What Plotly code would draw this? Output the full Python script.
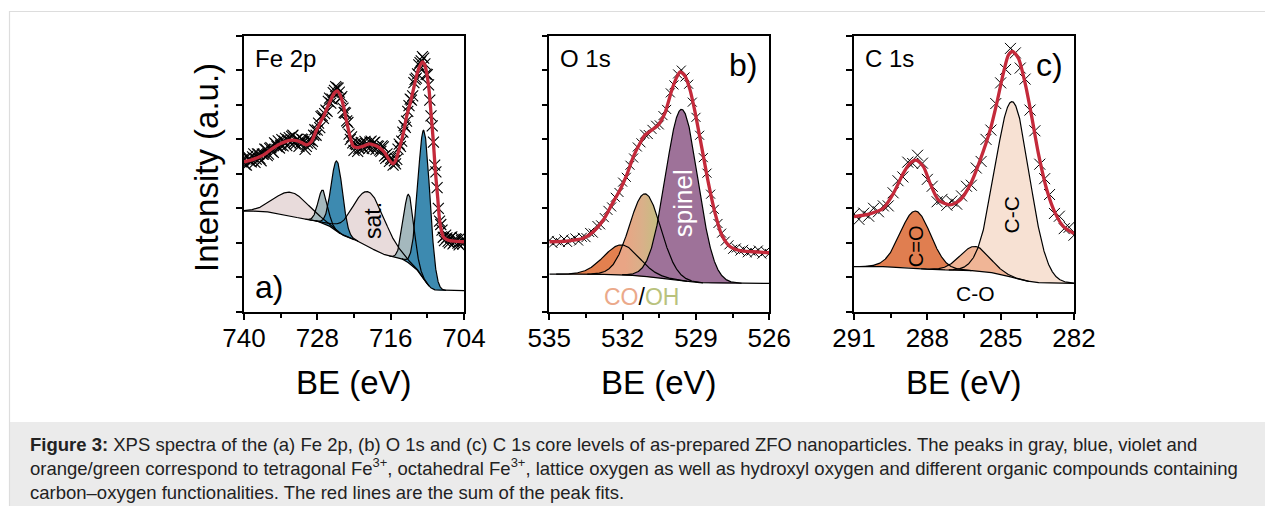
import numpy as np
import plotly.graph_objects as go

FONT = "Liberation Sans, Arial, Helvetica, sans-serif"
RED = "#c42a3b"

# ---------------- Fe 2p (panel a) ----------------
# measured points, 0.4 eV grid starting at 740.0
fe_meas_be_1 = [740.0, 739.6, 739.2, 738.8, 738.4, 738.0, 737.6, 737.2, 736.8, 736.4,
                736.0, 735.6, 735.2, 734.8, 734.4, 734.0, 733.6, 733.2, 732.8, 732.4,
                732.0, 731.6, 731.2, 730.8, 730.4, 730.0, 729.6, 729.2, 728.8, 728.4,
                728.0, 727.6, 727.2, 726.8, 726.4, 726.0, 725.6, 725.2, 724.8, 724.4,
                724.0, 723.6, 723.2, 722.8, 722.4, 722.0, 721.6, 721.2, 720.8, 720.4,
                720.0, 719.6, 719.2, 718.8, 718.4, 718.0, 717.6, 717.2, 716.8, 716.4,
                716.0, 715.6, 715.2, 714.8, 714.4, 714.0, 713.6, 713.2, 712.8, 712.4,
                712.0, 711.6, 711.2, 710.8, 710.4, 710.0, 709.6, 709.2, 708.8, 708.4,
                708.0, 707.6, 707.2, 706.8, 706.4, 706.0, 705.6, 705.2, 704.8, 704.4,
                704.0]
fe_meas_1 = [4.45, 4.25, 4.43, 4.35, 4.58, 4.43, 4.57, 4.38, 4.57, 4.71,
             4.57, 4.76, 4.62, 4.87, 4.96, 4.83, 4.81, 5.03, 4.99, 4.90,
             5.12, 4.86, 5.01, 4.90, 4.99, 4.71, 4.89, 4.98, 4.94, 5.28,
             5.27, 5.34, 5.69, 5.75, 5.81, 6.20, 6.17, 6.42, 6.50, 6.37,
             6.24, 5.78, 5.54, 5.15, 5.07, 4.68, 4.85, 4.74, 4.91, 4.73,
             4.88, 4.73, 4.95, 4.90, 4.71, 4.80, 4.65, 4.78, 4.45, 4.50,
             4.45, 4.25, 4.29, 4.72, 4.80, 5.21, 5.35, 5.81, 6.17, 6.26,
             6.74, 6.90, 7.23, 7.40, 7.19, 6.88, 6.14, 5.39, 4.25, 3.60,
             2.63, 2.37, 2.06, 2.14, 2.00, 2.17, 2.01, 2.10, 1.94, 2.06,
             2.10]
# measured points in between (739.8 ... 704.2)
fe_meas_be_2 = [739.8, 739.4, 739.0, 738.6, 738.2, 737.8, 737.4, 737.0, 736.6, 736.2,
                735.8, 735.4, 735.0, 734.6, 734.2, 733.8, 733.4, 733.0, 732.6, 732.2,
                731.8, 731.4, 731.0, 730.6, 730.2, 729.8, 729.4, 729.0, 728.6, 728.2,
                727.8, 727.4, 727.0, 726.6, 726.2, 725.8, 725.4, 725.0, 724.6, 724.2,
                723.8, 723.4, 723.0, 722.6, 722.2, 721.8, 721.4, 721.0, 720.6, 720.2,
                719.8, 719.4, 719.0, 718.6, 718.2, 717.8, 717.4, 717.0, 716.6, 716.2,
                715.8, 715.4, 715.0, 714.6, 714.2, 713.8, 713.4, 713.0, 712.6, 712.2,
                711.8, 711.4, 711.0, 710.6, 710.2, 709.8, 709.4, 709.0, 708.6, 708.2,
                707.8, 707.4, 707.0, 706.6, 706.2, 705.8, 705.4, 705.0, 704.6, 704.2]
fe_meas_2 = [4.27, 4.51, 4.36, 4.49, 4.33, 4.58, 4.45, 4.57, 4.72, 4.53,
             4.74, 4.65, 4.90, 4.79, 4.75, 4.99, 4.95, 4.82, 5.05, 5.09,
             4.91, 5.00, 4.80, 5.01, 4.94, 4.80, 4.99, 4.86, 5.12, 5.12,
             5.47, 5.66, 5.61, 5.85, 6.10, 6.05, 6.36, 6.53, 6.49, 6.19,
             5.91, 5.76, 5.49, 5.00, 4.90, 4.88, 4.65, 4.86, 4.77, 4.94,
             4.78, 4.92, 4.74, 4.92, 4.81, 4.69, 4.81, 4.52, 4.58, 4.36,
             4.42, 4.38, 4.42, 4.86, 4.95, 5.40, 5.53, 5.98, 6.14, 6.65,
             6.78, 7.16, 7.28, 7.36, 6.89, 6.58, 5.68, 4.92, 4.06, 3.00,
             2.53, 2.16, 2.22, 2.04, 2.15, 1.97, 2.11, 1.99, 2.15, 1.96]
fe_fit_be = [740.0, 738.5, 736.8, 735.5, 734.1, 733.0, 732.2, 731.3, 730.5, 729.7,
             729.0, 728.3, 727.5, 727.0, 726.3, 725.7, 725.2, 724.8, 724.3, 723.7,
             723.3, 722.9, 722.5, 722.1, 721.4, 720.7, 719.5, 718.5, 717.7, 717.0,
             716.4, 715.9, 715.6, 715.2, 714.5, 713.9, 713.4, 712.8, 712.3, 711.9,
             711.5, 711.1, 710.8, 710.4, 710.1, 709.7, 709.4, 709.0, 708.7, 708.3,
             708.0, 707.7, 707.4, 706.8, 706.3, 705.0, 704.0]
fe_fit = [4.35, 4.42, 4.55, 4.72, 4.87, 4.95, 4.98, 4.96, 4.90, 4.84,
          4.93, 5.20, 5.50, 5.66, 5.95, 6.19, 6.35, 6.41, 6.30, 5.95,
          5.60, 5.27, 4.98, 4.80, 4.76, 4.79, 4.87, 4.82, 4.74, 4.62,
          4.45, 4.33, 4.29, 4.38, 4.79, 5.20, 5.66, 6.05, 6.43, 6.75,
          7.01, 7.18, 7.25, 7.15, 6.92, 6.40, 5.76, 4.90, 4.11, 3.30,
          2.66, 2.35, 2.18, 2.09, 2.06, 2.04, 2.03]
# components: satellite 2p1/2, satellite 2p3/2, tet 2p1/2, tet 2p3/2, oct 2p1/2, oct 2p3/2
fe_peak_names = ["sat 2p1/2", "sat 2p3/2", "tet 2p1/2", "tet 2p3/2", "oct 2p1/2", "oct 2p3/2"]
fe_centers = [732.2, 719.5, 727.1, 713.05, 724.8, 710.55]
fe_amps = [0.69, 1.59, 0.96, 1.99, 2.03, 4.31]
fe_fwhm = [6.5, 6.2, 1.8, 2.0, 2.2, 2.3]
fe_bg_ends = [0.61, 2.92]          # low-BE end, high-BE end
fe_colors = ["#e8dbdb", "#e8dbdb", "#a4b8bd", "#a4b8bd", "#3d8ab0", "#3d8ab0"]

# ---------------- O 1s (panel b) ----------------
o_meas_be = [535.00, 534.85, 534.70, 534.55, 534.40, 534.25, 534.10, 533.95, 533.80, 533.65,
             533.50, 533.35, 533.20, 533.05, 532.90, 532.75, 532.60, 532.45, 532.30, 532.15,
             532.00, 531.85, 531.70, 531.55, 531.40, 531.25, 531.10, 530.95, 530.80, 530.65,
             530.50, 530.35, 530.20, 530.05, 529.90, 529.75, 529.60, 529.45, 529.30, 529.15,
             529.00, 528.85, 528.70, 528.55, 528.40, 528.25, 528.10, 527.95, 527.80, 527.65,
             527.50, 527.35, 527.20, 527.05, 526.90, 526.75, 526.60, 526.45, 526.30, 526.15,
             526.00]
o_meas = [2.07, 1.98, 2.06, 2.01, 2.11, 2.01, 2.08, 2.14, 2.05, 2.16,
          2.15, 2.30, 2.28, 2.50, 2.52, 2.73, 2.94, 3.04, 3.32, 3.46,
          3.76, 3.90, 4.25, 4.46, 4.78, 4.90, 5.15, 5.14, 5.29, 5.41,
          5.42, 5.69, 5.87, 6.35, 6.58, 6.90, 7.01, 6.81, 6.60, 6.08,
          5.64, 5.12, 4.47, 4.02, 3.41, 2.97, 2.56, 2.28, 2.05, 1.94,
          1.81, 1.85, 1.76, 1.81, 1.71, 1.76, 1.71, 1.79, 1.67, 1.75,
          1.69]
o_fit_be = [535.0, 534.29, 533.61, 533.20, 532.79, 532.45, 532.11, 531.83, 531.56, 531.29,
            531.08, 530.81, 530.54, 530.27, 529.99, 529.79, 529.65, 529.45, 529.24, 529.04,
            528.77, 528.49, 528.22, 527.95, 527.61, 527.20, 526.65, 526.0]
o_fit = [2.03, 2.05, 2.13, 2.32, 2.66, 3.10, 3.53, 3.97, 4.50, 4.89,
         5.13, 5.27, 5.42, 5.76, 6.43, 6.80, 6.96, 6.84, 6.43, 5.80,
         4.79, 3.73, 2.86, 2.23, 1.89, 1.77, 1.74, 1.71]
o_peak_names = ["CO", "OH", "spinel"]
o_centers = [532.04, 531.08, 529.58]
o_amps = [0.87, 2.40, 4.97]
o_fwhm = [1.7, 1.5, 1.55]
o_bg_ends = [0.82, 1.09]
o_colors = ["#e3804f", "#e2a783", "#9e7299"]

# ---------------- C 1s (panel c) ----------------
c_meas_be = [291.0, 290.8, 290.6, 290.4, 290.2, 290.0, 289.8, 289.6, 289.4, 289.2,
             289.0, 288.8, 288.6, 288.4, 288.2, 288.0, 287.8, 287.6, 287.4, 287.2,
             287.0, 286.8, 286.6, 286.4, 286.2, 286.0, 285.8, 285.6, 285.4, 285.2,
             285.0, 284.8, 284.6, 284.4, 284.2, 284.0, 283.8, 283.6, 283.4, 283.2,
             283.0, 282.8, 282.6, 282.4, 282.2, 282.0]
c_meas = [2.84, 2.68, 2.86, 2.77, 3.00, 2.90, 3.07, 3.07, 3.45, 3.80,
          3.91, 4.34, 4.30, 4.54, 4.31, 3.84, 3.64, 3.19, 3.26, 3.09,
          3.21, 3.12, 3.36, 3.64, 3.67, 4.17, 4.36, 5.00, 5.27, 6.04,
          6.64, 7.03, 7.64, 7.51, 7.07, 6.75, 5.85, 5.25, 4.28, 3.86,
          3.40, 2.85, 2.77, 2.41, 2.45, 2.22]
c_fit_be = [291.0, 290.35, 289.80, 289.39, 288.98, 288.71, 288.46, 288.16, 287.89, 287.55,
            287.07, 286.66, 286.25, 285.84, 285.43, 285.16, 284.89, 284.68, 284.51, 284.27,
            284.00, 283.73, 283.46, 283.11, 282.77, 282.43, 282.0]
c_fit = [2.76, 2.84, 3.00, 3.43, 4.02, 4.31, 4.40, 4.21, 3.73, 3.24,
         3.10, 3.24, 3.68, 4.40, 5.27, 6.05, 6.92, 7.45, 7.55, 7.35,
         6.63, 5.66, 4.60, 3.53, 2.86, 2.47, 2.27]
c_peak_names = ["C=O", "C-C", "C-O"]
c_centers = [288.48, 284.52, 286.05]
c_amps = [1.66, 5.10, 0.71]
c_fwhm = [1.45, 1.65, 1.40]
c_bg_ends = [0.82, 1.31]
c_colors = ["#e07e50", "#f7e1d3", "#f0b596"]

# axis ticks
fe_range = [740, 704]
fe_major = [740, 728, 716, 704]
fe_minor = [734, 722, 710]
o_range = [535, 526]
o_major = [535, 532, 529, 526]
o_minor = [533.5, 530.5, 527.5]
c_range = [291, 282]
c_major = [291, 288, 285, 282]
c_minor = [289.5, 286.5, 283.5]

# ---------------- layout geometry ----------------
W, H = 1265, 506
Y_DOM = [1 - 311.7 / H, 1 - 36 / H]
X_DOMS = [[244 / W, 464 / W], [549.3 / W, 769.3 / W], [854 / W, 1074 / W]]

fig = go.Figure()


def gauss(grid, c, a, w):
    return a * np.exp(-4.0 * np.log(2.0) * ((grid - c) / w) ** 2)


def add_components(xa, ya, rng, centers, amps, fwhm, bg_ends, colors, extras=None):
    lo, hi = min(rng), max(rng)
    grid = np.linspace(lo, hi, 1500)
    peaks = [gauss(grid, c, a, w) for c, a, w in zip(centers, amps, fwhm)]
    total = np.sum(peaks, axis=0)
    cum = np.cumsum(total)
    cum = cum - cum[0]
    bg = bg_ends[0] + (bg_ends[1] - bg_ends[0]) * cum / cum[-1]   # Shirley-type background
    extras = extras or {}
    for i, p in enumerate(peaks):
        m = p > amps[i] * 1e-3
        gx = grid[m]
        top = (bg + p)[m]
        base = bg[m]
        kw = extras.get(i, {})
        fig.add_trace(go.Scatter(
            x=np.concatenate([gx, gx[::-1]]), y=np.concatenate([top, base[::-1]]),
            fill="toself", fillcolor=colors[i], mode="lines", line=dict(width=0),
            xaxis=xa, yaxis=ya, hoverinfo="skip", showlegend=False, **kw))
    for i, p in enumerate(peaks):
        m = p > amps[i] * 1e-3
        fig.add_trace(go.Scatter(
            x=grid[m], y=(bg + p)[m], mode="lines", line=dict(color="black", width=1.2),
            xaxis=xa, yaxis=ya, hoverinfo="skip", showlegend=False))
    fig.add_trace(go.Scatter(
        x=grid, y=bg, mode="lines", line=dict(color="black", width=1.2),
        xaxis=xa, yaxis=ya, hoverinfo="skip", showlegend=False))


def add_data(xa, ya, be, vals, fit_be, fit, msize, mwidth=1.0):
    fig.add_trace(go.Scatter(
        x=be, y=vals, mode="markers",
        marker=dict(symbol="x-thin", size=msize, color="black",
                    line=dict(width=mwidth, color="black")),
        xaxis=xa, yaxis=ya, hoverinfo="skip", showlegend=False))
    fig.add_trace(go.Scatter(
        x=fit_be, y=fit, mode="lines",
        line=dict(color=RED, width=3.3, shape="spline", smoothing=0.7),
        xaxis=xa, yaxis=ya, hoverinfo="skip", showlegend=False))


add_components("x", "y", fe_range, fe_centers, fe_amps, fe_fwhm, fe_bg_ends, fe_colors)
add_data("x", "y", fe_meas_be_1 + fe_meas_be_2, fe_meas_1 + fe_meas_2, fe_fit_be, fe_fit, 11, 1.1)

oh_grad = {1: dict(fillgradient=dict(type="horizontal",
                                     colorscale=[[0, "#e9a585"], [0.45, "#d9b089"], [1, "#bcc47e"]],
                                     start=531.9, stop=530.3))}
add_components("x2", "y2", o_range, o_centers, o_amps, o_fwhm, o_bg_ends, o_colors, oh_grad)
add_data("x2", "y2", o_meas_be, o_meas, o_fit_be, o_fit, 9)

add_components("x3", "y3", c_range, c_centers, c_amps, c_fwhm, c_bg_ends, c_colors)
add_data("x3", "y3", c_meas_be, c_meas, c_fit_be, c_fit, 11)


def xax(dom, rng, major, minor, anchor):
    return dict(domain=dom, range=rng, anchor=anchor, tickmode="array", tickvals=major,
                ticktext=[str(v) for v in major], ticks="outside", ticklen=7, tickwidth=1.5,
                tickcolor="black", showline=True, linewidth=1.5, linecolor="black", mirror=True,
                showgrid=False, zeroline=False, ticklabelstandoff=-5, automargin=False,
                tickfont=dict(family=FONT, size=26, color="black"),
                minor=dict(tickvals=minor, ticks="outside", ticklen=5, tickwidth=1.5,
                           tickcolor="black", showgrid=False))


def yax(anchor):
    return dict(domain=Y_DOM, range=[0, 8], anchor=anchor, tickmode="array",
                tickvals=list(range(9)), showticklabels=False, ticks="outside", ticklen=6,
                tickwidth=1.5, tickcolor="black", showline=True, linewidth=1.5,
                linecolor="black", mirror=True, showgrid=False, zeroline=False,
                automargin=False)


annotations = []
# axis titles
for dom in X_DOMS:
    annotations.append(dict(text="BE (eV)", x=(dom[0] + dom[1]) / 2, y=1 - 382 / H,
                            xref="paper", yref="paper", showarrow=False,
                            font=dict(family=FONT, size=33, color="black"),
                            xanchor="center", yanchor="middle"))
annotations.append(dict(text="Intensity (a.u.)", x=206 / W, y=1 - 168 / H, xref="paper",
                        yref="paper", showarrow=False, textangle=-90,
                        font=dict(family=FONT, size=33, color="black"),
                        xanchor="center", yanchor="middle"))
# panel titles and letters
for txt, xr, yr, xx, yy, anc, sz in [
    ("Fe 2p", "x domain", "y domain", 0.04, 0.92, "left", 24),
    ("O 1s", "x2 domain", "y2 domain", 0.041, 0.92, "left", 24),
    ("C 1s", "x3 domain", "y3 domain", 0.042, 0.92, "left", 24),
    ("a)", "x domain", "y domain", 0.04, 0.09, "left", 32),
    ("b)", "x2 domain", "y2 domain", 0.955, 0.895, "right", 32),
    ("c)", "x3 domain", "y3 domain", 0.959, 0.895, "right", 32),
]:
    annotations.append(dict(text=txt, x=xx, y=yy, xref=xr, yref=yr, showarrow=False,
                            xanchor=anc, yanchor="middle",
                            font=dict(family=FONT, size=sz, color="black")))
# peak labels
annotations += [
    dict(text="sat.", x=718.9, y=2.66, xref="x", yref="y", textangle=-90, showarrow=False,
         font=dict(family=FONT, size=23, color="black")),
    dict(text="spinel", x=529.53, y=3.15, xref="x2", yref="y2", textangle=-90, showarrow=False,
         font=dict(family=FONT, size=26, color="white")),
    dict(text='<span style="color:#eba98a">CO</span>/<span style="color:#b9c27d">OH</span>',
         x=531.22, y=0.44, xref="x2", yref="y2", showarrow=False,
         font=dict(family=FONT, size=23, color="black")),
    dict(text="C-C", x=284.55, y=2.81, xref="x3", yref="y3", textangle=-90, showarrow=False,
         font=dict(family=FONT, size=21, color="black")),
    dict(text="C=O", x=288.48, y=1.89, xref="x3", yref="y3", textangle=-90, showarrow=False,
         font=dict(family=FONT, size=20, color="black")),
    dict(text="C-O", x=286.05, y=0.53, xref="x3", yref="y3", showarrow=False,
         font=dict(family=FONT, size=21, color="black")),
]
# caption
caption = ("<b>Figure 3:</b> XPS spectra of the (a) Fe 2p, (b) O 1s and (c) C 1s core levels of "
           "as-prepared ZFO nanoparticles. The peaks in gray, blue, violet and<br>"
           "orange/green correspond to tetragonal Fe<sup>3+</sup>, octahedral Fe<sup>3+</sup>, "
           "lattice oxygen as well as hydroxyl oxygen and different organic compounds containing<br>"
           "carbon–oxygen functionalities. The red lines are the sum of the peak fits.")
annotations.append(dict(text=caption, x=28 / W, y=1 - 468 / H, xref="paper", yref="paper",
                        xanchor="left", yanchor="middle", align="left", showarrow=False,
                        font=dict(family=FONT, size=18.5, color="#222222")))

shapes = [
    dict(type="rect", xref="paper", yref="paper", x0=10 / W, x1=1.01, y0=-0.01, y1=1 - 422 / H,
         fillcolor="#ebebeb", line=dict(width=0), layer="below"),
    dict(type="rect", xref="paper", yref="paper", x0=9.5 / W, x1=1.01, y0=-0.01, y1=1 - 11.5 / H,
         fillcolor="rgba(0,0,0,0)", line=dict(color="#dddddd", width=1.2), layer="below"),
]

fig.update_layout(
    width=W, height=H, autosize=False,
    margin=dict(l=0, r=0, t=0, b=0, pad=0, autoexpand=False),
    paper_bgcolor="white", plot_bgcolor="white", showlegend=False,
    font=dict(family=FONT, color="black"),
    xaxis=xax(X_DOMS[0], fe_range, fe_major, fe_minor, "y"),
    xaxis2=xax(X_DOMS[1], o_range, o_major, o_minor, "y2"),
    xaxis3=xax(X_DOMS[2], c_range, c_major, c_minor, "y3"),
    yaxis=yax("x"), yaxis2=yax("x2"), yaxis3=yax("x3"),
    annotations=annotations, shapes=shapes,
)

fig.write_html("out.html",
               config={"displayModeBar": False, "responsive": False},
               post_script="document.body.style.margin='0';document.body.style.overflow='hidden';")
